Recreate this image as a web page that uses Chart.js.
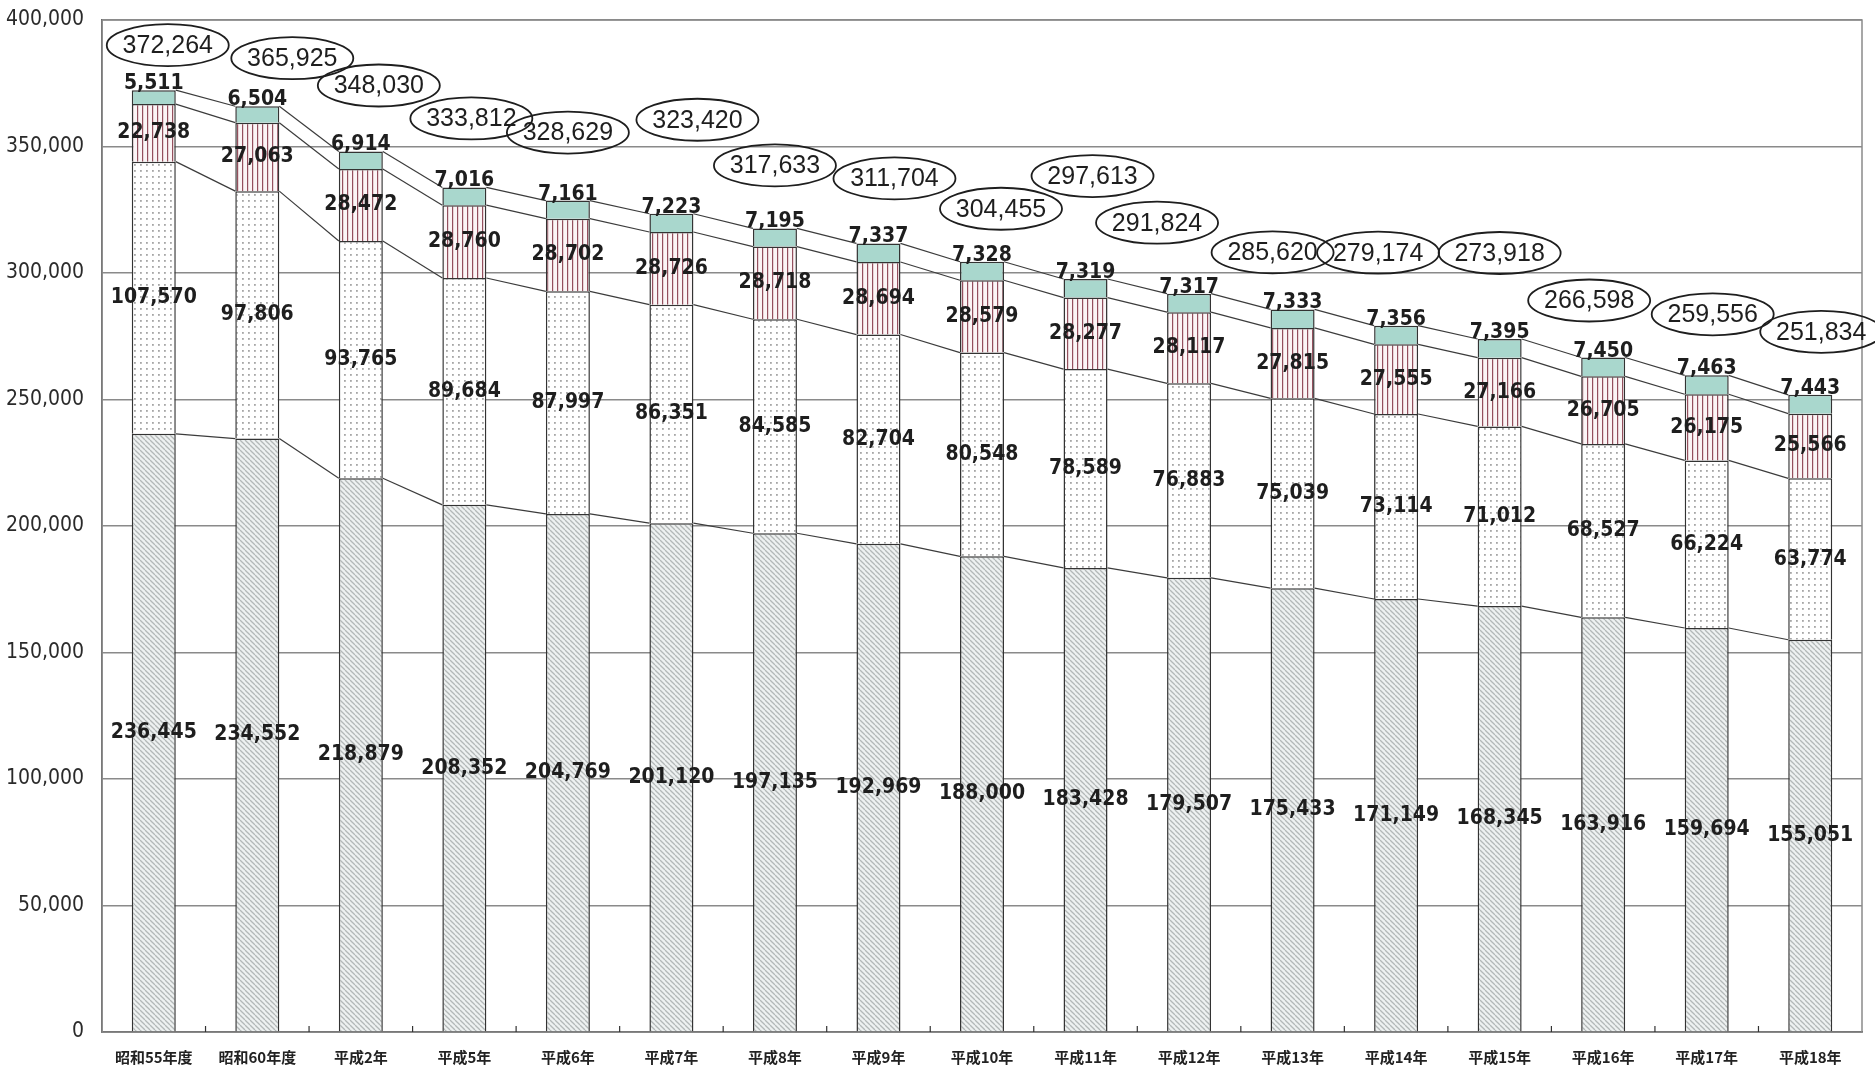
<!DOCTYPE html>
<html lang="ja">
<head>
<meta charset="utf-8">
<title>推移</title>
<script src="https://cdn.jsdelivr.net/npm/chart.js@4.4.1/dist/chart.umd.min.js"></script>
<style>
  html, body { margin: 0; padding: 0; background: #fff; }
  canvas { display: block; }
</style>
</head>
<body>
<canvas id="grafico" width="1875" height="1066"></canvas>
<script>
// Datos
const categorias = ['昭和55年度', '昭和60年度', '平成2年', '平成5年', '平成6年', '平成7年', '平成8年', '平成9年',
  '平成10年', '平成11年', '平成12年', '平成13年', '平成14年', '平成15年', '平成16年', '平成17年', '平成18年'];
const serieRayada = [236445, 234552, 218879, 208352, 204769, 201120, 197135, 192969, 188000, 183428, 179507, 175433, 171149, 168345, 163916, 159694, 155051];
const seriePuntos = [107570, 97806, 93765, 89684, 87997, 86351, 84585, 82704, 80548, 78589, 76883, 75039, 73114, 71012, 68527, 66224, 63774];
const serieFranjas = [22738, 27063, 28472, 28760, 28702, 28726, 28718, 28694, 28579, 28277, 28117, 27815, 27555, 27166, 26705, 26175, 25566];
const serieVerde = [5511, 6504, 6914, 7016, 7161, 7223, 7195, 7337, 7328, 7319, 7317, 7333, 7356, 7395, 7450, 7463, 7443];
const totales = [372264, 365925, 348030, 333812, 328629, 323420, 317633, 311704, 304455, 297613, 291824, 285620, 279174, 273918, 266598, 259556, 251834];

// Colocacion de los ovalos respecto a la barra (px)
const ovaloSubida = [45, 48, 66, 69, 68, 94, 63, 65, 53, 103, 71, 57, 73, 86, 57, 61, 63];
const ovaloDesvio = [14, 35, 18, 7, 0, 26, 0, 16, 19, 7, -32, -20, -18, 0, -14, 6, 11];

const canvas = document.getElementById('grafico');
const ctxPrincipal = canvas.getContext('2d');

function patron(ancho, alto, dibujar) {
    const c = document.createElement('canvas');
    c.width = ancho;
    c.height = alto;
    dibujar(c.getContext('2d'));
    return ctxPrincipal.createPattern(c, 'repeat');
}

// Rayado diagonal gris
const rellenoRayado = patron(5, 5, function (g) {
    g.fillStyle = '#eef1f1';
    g.fillRect(0, 0, 5, 5);
    g.strokeStyle = '#b3b8b8';
    g.lineWidth = 1.3;
    [-5, 0, 5].forEach(function (o) {
        g.beginPath();
        g.moveTo(o, 0);
        g.lineTo(o + 5, 5);
        g.stroke();
    });
});

// Puntos
const rellenoPuntos = patron(6, 6, function (g) {
    g.fillStyle = '#ffffff';
    g.fillRect(0, 0, 6, 6);
    g.fillStyle = '#a6a6a6';
    g.fillRect(2, 2, 1.8, 1.8);
});

// Franjas verticales
const rellenoFranjas = patron(5, 4, function (g) {
    g.fillStyle = '#fbf5f6';
    g.fillRect(0, 0, 5, 4);
    g.fillStyle = '#94505e';
    g.fillRect(2, 0, 1.2, 4);
});

const fuenteNum = '"DejaVu Sans Condensed", "Liberation Sans Narrow", sans-serif';

const etiquetas = {
    id: 'etiquetas',
    beforeDatasetsDraw(chart) {
        const ctx = chart.ctx;
        const a = chart.chartArea;
        ctx.save();
        // marco del area
        ctx.strokeStyle = '#8a8a8a';
        ctx.lineWidth = 1.5;
        ctx.strokeRect(a.left, a.top, a.right - a.left, a.bottom - a.top);
        ctx.restore();
    },
    afterDatasetsDraw(chart) {
        const ctx = chart.ctx;
        const a = chart.chartArea;
        const metas = [0, 1, 2, 3].map(function (i) { return chart.getDatasetMeta(i); });
        ctx.save();

        // marcas entre categorias
        const paso = (a.right - a.left) / categorias.length;
        ctx.strokeStyle = '#333';
        ctx.lineWidth = 1.2;
        for (let i = 1; i < categorias.length; i++) {
            const x = a.left + paso * i;
            ctx.beginPath();
            ctx.moveTo(x, a.bottom);
            ctx.lineTo(x, a.bottom - 6);
            ctx.stroke();
        }

        // lineas de serie entre barras
        ctx.strokeStyle = '#3c3c3c';
        ctx.lineWidth = 1.2;
        metas.forEach(function (meta) {
            for (let i = 0; i < meta.data.length - 1; i++) {
                const p = meta.data[i], q = meta.data[i + 1];
                ctx.beginPath();
                ctx.moveTo(p.x + p.width / 2, p.y);
                ctx.lineTo(q.x - q.width / 2, q.y);
                ctx.stroke();
            }
        });

        // valores de cada tramo
        ctx.fillStyle = '#1e1e1e';
        ctx.textAlign = 'center';
        ctx.font = 'bold 21px ' + fuenteNum;
        metas.forEach(function (meta, k) {
            const datos = chart.data.datasets[k].data;
            meta.data.forEach(function (bar, i) {
                const txt = datos[i].toLocaleString('en-US');
                if (k < 3) {
                    ctx.textBaseline = 'middle';
                    ctx.fillText(txt, bar.x, (bar.y + bar.base) / 2);
                } else {
                    ctx.textBaseline = 'alphabetic';
                    ctx.fillText(txt, bar.x, bar.y - 1);
                }
            });
        });

        // totales dentro de ovalos
        ctx.font = '25px "Liberation Sans", Arial, sans-serif';
        ctx.textBaseline = 'middle';
        ctx.strokeStyle = '#1e1e1e';
        ctx.lineWidth = 1.8;
        metas[3].data.forEach(function (bar, i) {
            const cx = bar.x + ovaloDesvio[i];
            const cy = bar.y - ovaloSubida[i];
            ctx.beginPath();
            ctx.ellipse(cx, cy, 61, 21, 0, 0, Math.PI * 2);
            ctx.stroke();
            ctx.fillText(totales[i].toLocaleString('en-US'), cx, cy + 1);
        });

        ctx.restore();
    }
};

const borde = '#333333';

new Chart(ctxPrincipal, {
    type: 'bar',
    data: {
        labels: categorias,
        datasets: [
            { data: serieRayada, backgroundColor: rellenoRayado, borderColor: borde, borderWidth: 1.5 },
            { data: seriePuntos, backgroundColor: rellenoPuntos, borderColor: borde, borderWidth: 1.5 },
            { data: serieFranjas, backgroundColor: rellenoFranjas, borderColor: borde, borderWidth: 1.5 },
            { data: serieVerde, backgroundColor: '#a9d7cd', borderColor: borde, borderWidth: 1.5 }
        ]
    },
    options: {
        responsive: false,
        animation: false,
        devicePixelRatio: 1,
        categoryPercentage: 0.85,
        barPercentage: 0.5,
        layout: { padding: { top: 20, right: 13, left: 0, bottom: 0 } },
        plugins: {
            legend: { display: false },
            tooltip: { enabled: false }
        },
        scales: {
            x: {
                stacked: true,
                grid: { display: false, drawTicks: false },
                border: { color: '#444', width: 1.5 },
                ticks: {
                    color: '#222',
                    padding: 16,
                    maxRotation: 0,
                    autoSkip: false,
                    font: { family: '"Noto Sans CJK JP", sans-serif', size: 15, weight: 'bold' }
                },
                afterFit: function (s) { s.height = 34; }
            },
            y: {
                stacked: true,
                min: 0,
                max: 400000,
                grid: { color: '#8a8a8a', lineWidth: 1.5, drawTicks: false },
                border: { color: '#444', width: 1.5 },
                ticks: {
                    stepSize: 50000,
                    color: '#2a2a2a',
                    padding: 18,
                    font: { family: '"Liberation Sans Narrow", "DejaVu Sans Condensed", sans-serif', size: 21 },
                    callback: function (v) { return v.toLocaleString('en-US'); }
                },
                afterFit: function (s) {
                    s.width = 102;
                    // el rótulo superior no debe empujar el área
                    s.paddingTop = 10;
                    s.paddingBottom = 10;
                }
            }
        }
    },
    plugins: [etiquetas]
});
</script>
</body>
</html>
